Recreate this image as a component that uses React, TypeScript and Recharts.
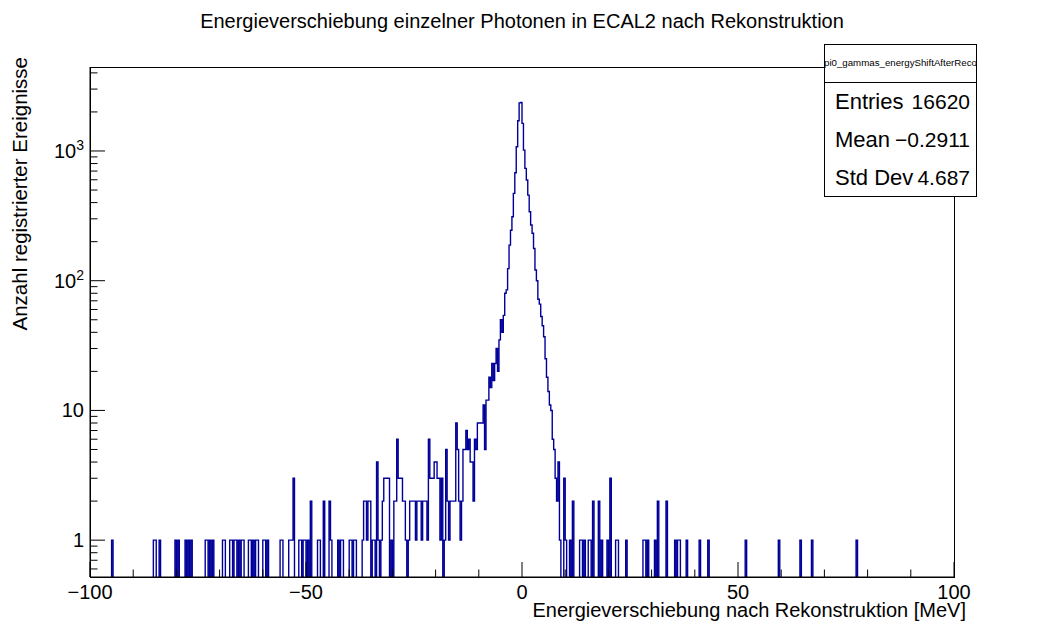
import React from "react";
import { LineChart, Line, XAxis, YAxis } from "recharts";

const X_MIN = -100;
const X_MAX = 100;
const N_BINS = 600;
const BIN_WIDTH = (X_MAX - X_MIN) / N_BINS;

// sparse tails: bin index -> entries (empty bins left out)
const leftTailBins = [15, 44, 45, 48, 59, 61, 66, 68, 70, 80, 81, 83, 85, 92, 93, 97, 98, 100, 101, 103, 105, 106, 110, 111, 113, 115, 116, 120, 121, 123, 132, 133, 138, 139, 140, 141, 145, 146, 148, 149, 151, 153, 158, 159, 162, 166, 167, 172, 174, 175, 180, 181, 183, 184];
const leftTailCounts = [1, 1, 1, 1, 1, 1, 1, 1, 1, 1, 1, 1, 1, 1, 1, 1, 1, 1, 1, 1, 1, 1, 1, 1, 1, 1, 1, 1, 1, 1, 1, 1, 1, 1, 1, 3, 1, 1, 1, 1, 1, 2, 1, 1, 2, 2, 1, 1, 1, 1, 1, 1, 1, 1];

// dense part around the peak, starting at bin CORE_START
const CORE_START = 185;
const coreCounts = [
  0, 0, 0, 0, 1, 2, 2, 1, 2, 2, // 185
  0, 1, 1, 0, 4, 1, 0, 1, 2, 3, // 195
  3, 3, 3, 0, 1, 0, 2, 2, 6, 3, // 205
  3, 3, 2, 2, 1, 0, 1, 2, 2, 2, // 215
  2, 1, 2, 2, 2, 1, 2, 2, 2, 1, // 225
  6, 3, 3, 3, 4, 4, 3, 3, 1, 3, // 235
  0, 1, 5, 2, 1, 2, 2, 2, 2, 8, // 245
  5, 2, 1, 2, 5, 5, 7, 5, 6, 4, // 255
  4, 2, 6, 5, 8, 8, 8, 8, 11, 5, // 265
  12, 12, 18, 15, 23, 17, 23, 30, 20, 35, // 275
  50, 40, 54, 80, 85, 124, 188, 245, 311, 471, // 285
  679, 1077, 1710, 2350, 2370, 1633, 1016, 734, 597, 457, // 295
  340, 269, 232, 177, 121, 100, 72, 66, 53, 45, // 305
  37, 25, 18, 14, 11, 10, 6, 5, 3, 2, // 315
  4, 1, 0, 0, 3, 1, 0, 0, 1, 0, // 325
  2, 0, 0, 0, 0, 1, 1, 0, 1, // 335
];

const rightTailBins = [346, 347, 349, 353, 355, 359, 361, 365, 366, 372, 384, 385, 387, 392, 394, 400, 406, 408, 409, 414, 423, 429, 455, 478, 493, 501, 532];
const rightTailCounts = [1, 1, 2, 2, 1, 1, 3, 1, 1, 1, 1, 1, 1, 1, 2, 2, 1, 1, 1, 1, 1, 1, 1, 1, 1, 1, 1];

const xTicks = [-100, -90, -80, -70, -60, -50, -40, -30, -20, -10, 0, 10, 20, 30, 40, 50, 60, 70, 80, 90, 100];
const yTicks = [
  0.6, 0.7, 0.8, 0.9, 1, 2, 3, 4, 5, 6, 7, 8, 9, 10, 20, 30, 40, 50, 60, 70, 80, 90,
  100, 200, 300, 400, 500, 600, 700, 800, 900, 1000, 2000, 3000, 4000,
];
const Y_MIN = 0.52;
const Y_MAX = 4440;

const statsLabels = ["Entries", "Mean", "Std Dev"];
const statsValues = ["16620", "\u22120.2911", "4.687"];

const counts: number[] = new Array(N_BINS).fill(0);
leftTailBins.forEach((b, i) => (counts[b] = leftTailCounts[i]));
coreCounts.forEach((c, i) => (counts[CORE_START + i] = c));
rightTailBins.forEach((b, i) => (counts[b] = rightTailCounts[i]));

// empty bins are pushed below the frame so the outline drops to the bottom (clipped)
const data = counts.map((c, i) => ({ x: X_MIN + i * BIN_WIDTH, y: c > 0 ? c : 0.1 }));
data.push({ x: X_MAX, y: data[data.length - 1].y });

const FONT = "'Liberation Sans', Arial, Helvetica, sans-serif";

function XTick({ x, y, payload }: any) {
  const v = payload.value;
  const major = v % 50 === 0;
  return (
    <g>
      <line x1={x} x2={x} y1={y} y2={y - (major ? 15 : 7.5)} stroke="#000" strokeWidth={1} />
      {major && (
        <text x={x} y={y + 22} textAnchor="middle" fontSize={20} fontFamily={FONT} fill="#000">
          {v < 0 ? `\u2212${-v}` : `${v}`}
        </text>
      )}
    </g>
  );
}

function YTick({ x, y, payload }: any) {
  const v = payload.value;
  const e = Math.log10(v);
  const major = Math.abs(e - Math.round(e)) < 1e-6;
  const p = Math.round(e);
  return (
    <g>
      <line x1={x} x2={x + (major ? 15 : 7.5)} y1={y} y2={y} stroke="#000" strokeWidth={1} />
      {major && (
        <text x={x - 6} y={y + 7} textAnchor="end" fontSize={20} fontFamily={FONT} fill="#000">
          {p === 0 ? "1" : p === 1 ? "10" : (
            <>
              10
              <tspan dy={-8} fontSize={14}>{p}</tspan>
            </>
          )}
        </text>
      )}
    </g>
  );
}

export default function App() {
  return (
    <div style={{ position: "absolute", left: 0, top: 0, width: 1045, height: 628, background: "#fff" }}>
      <LineChart
        width={1045}
        height={628}
        data={data}
        margin={{ top: 67, right: 91, bottom: 21, left: 30 }}
      >
        <XAxis
          dataKey="x"
          type="number"
          domain={[X_MIN, X_MAX]}
          ticks={xTicks}
          interval={0}
          height={30}
          tickSize={0}
          tickMargin={0}
          tickLine={false}
          axisLine={{ stroke: "#000" }}
          tick={<XTick />}
        />
        <YAxis
          scale="log"
          domain={[Y_MIN, Y_MAX]}
          allowDataOverflow
          ticks={yTicks}
          interval={0}
          width={60}
          tickSize={0}
          tickMargin={0}
          tickLine={false}
          axisLine={{ stroke: "#000" }}
          tick={<YTick />}
        />
        <Line
          type="stepAfter"
          dataKey="y"
          stroke="#000099"
          strokeWidth={1.4}
          dot={false}
          isAnimationActive={false}
        />
      </LineChart>
      <svg
        width={1045}
        height={628}
        style={{ position: "absolute", left: 0, top: 0, pointerEvents: "none" }}
        fontFamily={FONT}
      >
        <rect x={90.5} y={67.5} width={864} height={510} fill="none" stroke="#000" />
        <text x={522} y={28} textAnchor="middle" fontSize={20}>
          Energieverschiebung einzelner Photonen in ECAL2 nach Rekonstruktion
        </text>
        <text x={966} y={617} textAnchor="end" fontSize={20}>
          Energieverschiebung nach Rekonstruktion [MeV]
        </text>
        <text x={27} y={57} textAnchor="end" fontSize={20.5} transform="rotate(-90 27 57)">
          Anzahl registrierter Ereignisse
        </text>
        <rect x={824.5} y={44.5} width={152} height={152} fill="#fff" stroke="#000" />
        <line x1={824.5} x2={976.5} y1={82.5} y2={82.5} stroke="#000" />
        <text x={900.5} y={66} textAnchor="middle" fontSize={9.7}>
          pi0_gammas_energyShiftAfterReco
        </text>
        {statsLabels.map((k, i) => (
          <g key={k}>
            <text x={835} y={109 + i * 38} fontSize={22}>{k}</text>
            <text x={970} y={109 + i * 38} fontSize={21} textAnchor="end">
              {statsValues[i]}
            </text>
          </g>
        ))}
      </svg>
    </div>
  );
}
